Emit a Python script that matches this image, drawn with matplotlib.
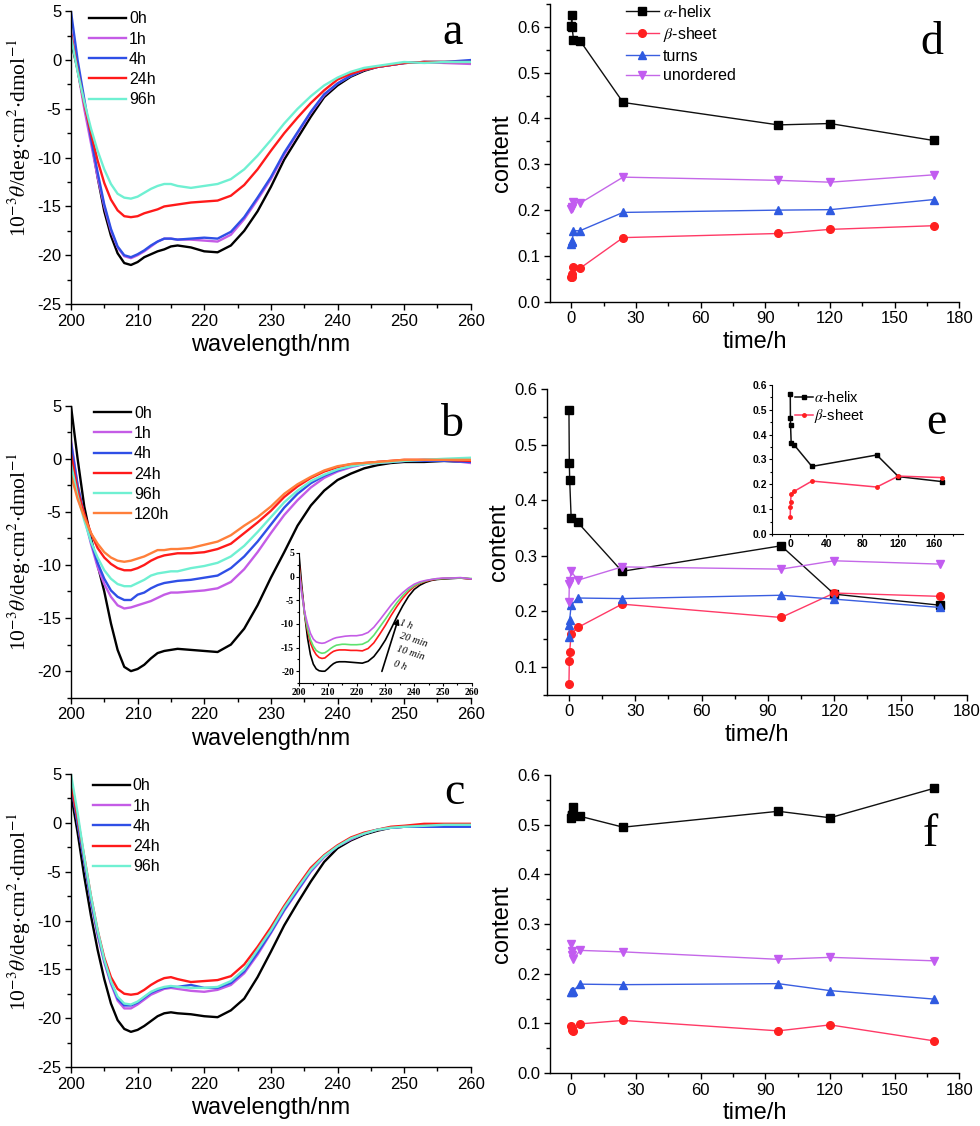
import numpy as np
import matplotlib.pyplot as plt
from matplotlib.ticker import MultipleLocator

plt.rcParams['font.family'] = ['Liberation Sans', 'DejaVu Sans']
plt.rcParams['mathtext.fontset'] = 'stix'
plt.rcParams['axes.unicode_minus'] = False

wl = [200, 201, 202, 203, 204, 205, 206, 207, 208, 209, 210, 211, 212, 213, 214, 215, 216,
      218, 220, 222, 224, 226, 228, 230, 232, 234, 236, 238, 240, 242, 244, 246, 248, 250,
      253, 256, 260]

# panel a (10^-3 theta)
a_0h = [2.0, -1.0, -4.5, -8.0, -12.0, -15.5, -18.0, -19.8, -20.8, -21.0, -20.7, -20.2, -19.9,
        -19.6, -19.4, -19.1, -19.0, -19.2, -19.6, -19.7, -19.0, -17.5, -15.5, -13.0, -10.2,
        -8.0, -5.8, -3.8, -2.6, -1.7, -1.1, -0.7, -0.5, -0.3, -0.2, -0.2, -0.2]
a_1h = [3.0, -1.0, -5.0, -8.5, -12.0, -15.0, -17.5, -19.2, -20.1, -20.3, -20.0, -19.6, -19.1,
        -18.6, -18.3, -18.3, -18.4, -18.4, -18.5, -18.6, -17.9, -16.3, -14.3, -12.2, -9.7,
        -7.5, -5.4, -3.6, -2.4, -1.6, -1.0, -0.7, -0.5, -0.3, -0.2, -0.3, -0.4]
a_4h = [5.0, 0.0, -4.0, -8.0, -11.5, -14.8, -17.3, -19.1, -20.0, -20.2, -19.9, -19.5, -19.0,
        -18.6, -18.3, -18.3, -18.4, -18.3, -18.2, -18.3, -17.6, -16.1, -14.1, -12.0, -9.5,
        -7.4, -5.3, -3.5, -2.4, -1.6, -1.0, -0.7, -0.5, -0.3, -0.2, -0.2, 0.0]
a_24h = [2.7, -1.0, -4.5, -7.5, -10.3, -12.6, -14.3, -15.4, -16.0, -16.1, -16.0, -15.7, -15.5,
         -15.3, -15.0, -14.9, -14.8, -14.6, -14.5, -14.4, -13.9, -12.8, -11.2, -9.3, -7.5,
         -5.9, -4.4, -3.1, -2.0, -1.4, -1.0, -0.7, -0.5, -0.3, -0.2, -0.2, -0.2]
a_96h = [2.4, -1.2, -4.3, -7.0, -9.3, -11.2, -12.7, -13.7, -14.1, -14.2, -14.0, -13.6, -13.2,
         -12.9, -12.7, -12.7, -12.9, -13.1, -12.9, -12.7, -12.2, -11.2, -9.8, -8.2, -6.5,
         -5.0, -3.7, -2.6, -1.8, -1.2, -0.8, -0.6, -0.4, -0.2, -0.3, -0.2, -0.2]

# panel b
b_0h = [5.0, 0.0, -4.5, -7.5, -10.0, -12.5, -15.5, -18.0, -19.6, -20.0, -19.8, -19.4, -18.8,
        -18.3, -18.1, -18.0, -17.9, -18.0, -18.1, -18.2, -17.5, -16.0, -13.8, -11.2, -8.8,
        -6.3, -4.4, -3.0, -2.0, -1.4, -0.9, -0.6, -0.4, -0.3, -0.3, -0.2, -0.3]
b_1h = [1.8, -2.5, -5.5, -8.0, -10.2, -11.8, -13.0, -13.8, -14.1, -14.0, -13.8, -13.6, -13.4,
        -13.1, -12.8, -12.6, -12.6, -12.5, -12.4, -12.2, -11.6, -10.4, -8.8, -7.0, -5.3,
        -3.9, -2.7, -1.8, -1.2, -0.8, -0.5, -0.4, -0.3, -0.2, -0.1, -0.1, -0.4]
b_4h = [1.5, -2.5, -5.3, -7.8, -9.8, -11.3, -12.4, -13.0, -13.3, -13.3, -12.8, -12.6, -12.2,
        -11.9, -11.7, -11.6, -11.5, -11.4, -11.2, -11.0, -10.3, -9.2, -7.8, -6.2, -4.6,
        -3.3, -2.3, -1.6, -1.1, -0.7, -0.5, -0.3, -0.3, -0.2, -0.2, -0.2, -0.3]
b_24h = [0.5, -3.0, -5.2, -7.0, -8.4, -9.3, -9.9, -10.3, -10.5, -10.5, -10.3, -10.0, -9.6,
         -9.3, -9.1, -9.0, -8.9, -8.9, -8.8, -8.5, -8.0, -7.0, -6.0, -4.9, -3.6,
         -2.6, -1.8, -1.2, -0.8, -0.5, -0.4, -0.3, -0.2, -0.1, -0.1, -0.1, -0.2]
b_96h = [-0.5, -3.5, -5.8, -7.8, -9.3, -10.5, -11.3, -11.8, -12.0, -12.0, -11.7, -11.4, -11.0,
         -10.8, -10.7, -10.6, -10.6, -10.3, -10.1, -9.8, -9.2, -8.2, -6.9, -5.5, -4.1,
         -3.0, -2.1, -1.5, -1.0, -0.7, -0.5, -0.4, -0.3, -0.2, -0.1, 0.0, 0.1]
b_120h = [-1.5, -3.8, -5.5, -7.0, -8.0, -8.8, -9.3, -9.6, -9.7, -9.6, -9.4, -9.2, -8.9,
          -8.6, -8.6, -8.5, -8.5, -8.4, -8.1, -7.8, -7.2, -6.3, -5.5, -4.5, -3.3,
          -2.4, -1.7, -1.1, -0.7, -0.5, -0.4, -0.3, -0.2, -0.1, -0.1, -0.1, -0.1]

# inset of panel b (first hour)
bi_0h = [5.0, -2.0, -8.0, -13.0, -16.5, -18.5, -19.5, -19.9, -20.0, -20.0, -19.5, -18.9, -18.4,
         -18.1, -18.0, -18.0, -18.0, -18.1, -18.2, -18.3, -17.9, -16.9, -15.3, -13.4, -11.0,
         -8.5, -6.2, -4.2, -2.7, -1.8, -1.2, -0.8, -0.6, -0.5, -0.4, -0.3, -0.5]
bi_10m = [3.0, -3.0, -8.0, -11.5, -14.0, -15.5, -16.5, -17.1, -17.3, -17.2, -16.7, -16.2, -15.8,
          -15.6, -15.5, -15.5, -15.5, -15.6, -15.6, -15.7, -15.2, -14.0, -12.2, -10.3, -8.2,
          -6.3, -4.6, -3.2, -2.1, -1.4, -1.0, -0.7, -0.5, -0.4, -0.3, -0.3, -0.5]
bi_20m = [2.0, -3.5, -8.0, -11.0, -13.3, -14.7, -15.6, -16.0, -16.2, -16.1, -15.7, -15.2, -14.8,
          -14.5, -14.4, -14.3, -14.3, -14.4, -14.4, -14.3, -13.7, -12.4, -10.7, -9.0, -7.2,
          -5.5, -4.0, -2.8, -1.9, -1.3, -0.9, -0.6, -0.5, -0.4, -0.3, -0.3, -0.4]
bi_1h = [1.5, -3.5, -7.5, -10.0, -12.0, -13.2, -13.8, -14.0, -14.1, -14.0, -13.7, -13.4, -13.1,
         -12.9, -12.8, -12.7, -12.6, -12.5, -12.5, -12.3, -11.8, -10.7, -9.2, -7.6, -6.0,
         -4.6, -3.4, -2.4, -1.6, -1.1, -0.8, -0.6, -0.4, -0.3, -0.3, -0.2, -0.5]

# panel c
c_0h = [3.0, -1.0, -5.5, -9.5, -13.0, -16.0, -18.5, -20.2, -21.1, -21.4, -21.2, -20.8, -20.3,
        -19.8, -19.5, -19.4, -19.5, -19.6, -19.8, -19.9, -19.2, -18.0, -15.8, -13.2, -10.5,
        -8.2, -6.0, -4.0, -2.6, -1.8, -1.2, -0.8, -0.5, -0.4, -0.3, -0.2, -0.2]
c_1h = [4.0, 0.0, -4.0, -8.0, -11.5, -14.3, -16.5, -18.2, -19.0, -19.0, -18.6, -18.1, -17.6,
        -17.3, -17.0, -16.9, -17.0, -17.2, -17.3, -17.1, -16.6, -15.4, -13.5, -11.3, -9.0,
        -7.0, -5.0, -3.5, -2.4, -1.7, -1.1, -0.7, -0.5, -0.4, -0.4, -0.4, -0.4]
c_4h = [4.0, 0.0, -4.0, -8.0, -11.3, -14.1, -16.3, -18.0, -18.7, -18.7, -18.4, -17.9, -17.4,
        -17.1, -16.9, -16.8, -16.8, -16.6, -16.9, -16.9, -16.4, -15.2, -13.3, -11.2, -8.9,
        -6.9, -4.9, -3.4, -2.4, -1.6, -1.1, -0.7, -0.5, -0.4, -0.4, -0.4, -0.4]
c_24h = [4.0, 0.5, -3.5, -7.5, -11.0, -13.8, -15.8, -17.0, -17.5, -17.6, -17.5, -17.1, -16.6,
         -16.2, -15.9, -15.8, -16.0, -16.3, -16.2, -16.1, -15.7, -14.5, -12.7, -10.7, -8.5,
         -6.5, -4.6, -3.3, -2.3, -1.5, -1.0, -0.7, -0.4, -0.3, -0.1, -0.1, -0.1]
c_96h = [5.0, 1.0, -3.5, -7.5, -11.0, -14.0, -16.2, -17.8, -18.5, -18.6, -18.3, -17.8, -17.3,
         -17.0, -16.8, -16.7, -16.8, -16.9, -16.9, -16.8, -16.2, -15.0, -13.0, -11.0, -8.7,
         -6.7, -4.8, -3.4, -2.4, -1.6, -1.1, -0.7, -0.5, -0.4, -0.3, -0.2, -0.2]

# secondary structure content vs time
t_h = [0, 0.17, 0.33, 1, 4, 24, 96, 120, 168]
d_helix = [0.601, 0.625, 0.600, 0.572, 0.570, 0.435, 0.386, 0.389, 0.352]
d_sheet = [0.054, 0.055, 0.060, 0.075, 0.073, 0.140, 0.149, 0.158, 0.166]
d_turns = [0.125, 0.132, 0.130, 0.155, 0.155, 0.195, 0.200, 0.201, 0.223]
d_unord = [0.203, 0.207, 0.205, 0.218, 0.215, 0.272, 0.265, 0.261, 0.277]

e_helix = [0.563, 0.467, 0.437, 0.368, 0.360, 0.272, 0.318, 0.231, 0.211]
e_sheet = [0.070, 0.110, 0.127, 0.160, 0.171, 0.213, 0.189, 0.233, 0.227]
e_turns = [0.153, 0.176, 0.185, 0.211, 0.224, 0.223, 0.229, 0.222, 0.207]
e_unord = [0.217, 0.249, 0.254, 0.272, 0.256, 0.280, 0.276, 0.291, 0.285]

f_helix = [0.513, 0.519, 0.520, 0.536, 0.517, 0.495, 0.527, 0.514, 0.573]
f_sheet = [0.095, 0.086, 0.090, 0.085, 0.099, 0.106, 0.085, 0.097, 0.065]
f_turns = [0.163, 0.164, 0.165, 0.166, 0.179, 0.178, 0.180, 0.166, 0.149]
f_unord = [0.259, 0.245, 0.238, 0.230, 0.247, 0.244, 0.229, 0.233, 0.226]

cd_colors = ['#000000', '#c45ce6', '#2f4fe6', '#ff1a1a', '#6ff0d2', '#ff7f3a']
inset_colors = ['#000000', '#ff1a1a', '#5ee26e', '#c45ce6']
ss_colors = ['#000000', '#ff2020', '#2f5ae0', '#c25cf0']
ss_line = ['#101010', '#ff3a66', '#3a5ee0', '#c468e8']
ss_marks = ['s', 'o', '^', 'v']
ss_names = [r'$\alpha$-helix', r'$\beta$-sheet', 'turns', 'unordered']

CD_YLABEL = r'10$^{-3}$$\theta$/deg$\cdot$cm$^{2}$$\cdot$dmol$^{-1}$'
SERIF = ['Liberation Serif', 'DejaVu Serif']


def origin_style(ax, xmaj, xmin, ymaj, ymin, size=12, lw=1.0, tl=4.5):
    for s in ('top', 'right'):
        ax.spines[s].set_visible(False)
    for s in ('left', 'bottom'):
        ax.spines[s].set_linewidth(lw)
    ax.xaxis.set_major_locator(MultipleLocator(xmaj))
    ax.xaxis.set_minor_locator(MultipleLocator(xmin))
    ax.yaxis.set_major_locator(MultipleLocator(ymaj))
    ax.yaxis.set_minor_locator(MultipleLocator(ymin))
    ax.tick_params(which='major', direction='out', length=tl, width=lw, labelsize=size, pad=2.5)
    ax.tick_params(which='minor', direction='out', length=tl * 0.6, width=lw)


def cd_panel(rect, curves, labels, ylim, legend_anchor, ylab_y):
    ax = fig.add_axes(rect)
    for y, lab, col in zip(curves, labels, cd_colors):
        ax.plot(wl, y, color=col, lw=1.7, label=lab)
    ax.set_xlim(200, 260)
    ax.set_ylim(*ylim)
    origin_style(ax, 10, 5, 5, 2.5)
    ax.set_xlabel('wavelength/nm', fontsize=17, labelpad=4)
    ax.set_ylabel(CD_YLABEL, fontsize=15.5, family=SERIF)
    ax.yaxis.set_label_coords(-0.095, ylab_y)
    ax.legend(loc='upper left', bbox_to_anchor=legend_anchor, frameon=False, fontsize=11.5,
              handlelength=2.3, handletextpad=0.2, labelspacing=0.33, borderpad=0,
              borderaxespad=0)
    return ax


def ss_panel(rect, series, ylim, legend=False):
    ax = fig.add_axes(rect)
    for i, y in enumerate(series):
        ax.plot(t_h, y, color=ss_line[i], lw=1.0, marker=ss_marks[i], ms=5.5,
                mfc=ss_colors[i], mec=ss_colors[i], label=ss_names[i])
    ax.set_xlim(-10, 180)
    ax.set_ylim(*ylim)
    origin_style(ax, 30, 15, 0.1, 0.05)
    ax.set_xlabel('time/h', fontsize=17, labelpad=3)
    ax.set_ylabel('content', fontsize=17, labelpad=3)
    if legend:
        ax.legend(loc='upper left', bbox_to_anchor=(0.185, 1.0), frameon=False, fontsize=11.5,
                  handlelength=2.1, handletextpad=0.25, labelspacing=0.3, borderpad=0,
                  borderaxespad=0, numpoints=1)
    return ax


fig = plt.figure(figsize=(9.8, 11.26), dpi=100)

# left column: CD spectra
cd_panel([0.0724, 0.730, 0.408, 0.260], [a_0h, a_1h, a_4h, a_24h, a_96h],
         ['0h', '1h', '4h', '24h', '96h'], (-25, 5), (0.045, 1.0), 0.567)
cd_panel([0.0724, 0.3804, 0.408, 0.2593], [b_0h, b_1h, b_4h, b_24h, b_96h, b_120h],
         ['0h', '1h', '4h', '24h', '96h', '120h'], (-22.5, 5), (0.058, 1.0), 0.5)
cd_panel([0.0724, 0.0524, 0.408, 0.2602], [c_0h, c_1h, c_4h, c_24h, c_96h],
         ['0h', '1h', '4h', '24h', '96h'], (-25, 5), (0.055, 0.985), 0.53)

# inset of b
axi = fig.add_axes([0.305, 0.3934, 0.1765, 0.1155])
axi.patch.set_alpha(0)
for y, col in zip([bi_0h, bi_10m, bi_20m, bi_1h], inset_colors):
    axi.plot(wl, y, color=col, lw=1.2)
axi.set_xlim(200, 260)
axi.set_ylim(-22.5, 5)
origin_style(axi, 10, 5, 5, 2.5, size=7, lw=0.8, tl=2.5)
axi.tick_params(pad=1)
for lab in axi.get_xticklabels() + axi.get_yticklabels():
    lab.set_family(SERIF)
    lab.set_fontweight('bold')
axi.annotate('', xy=(234.8, -8.3), xytext=(228.5, -20.6),
             arrowprops=dict(arrowstyle='-|>', color='black', lw=1.2, mutation_scale=8))
for txt, xy in [('1 h', (234.5, -10.2)), ('20 min', (234.6, -13.4)),
                ('10 min', (233.6, -16.2)), ('0 h', (232.6, -18.8))]:
    axi.text(xy[0], xy[1], txt, family=SERIF, style='italic', fontsize=7.5,
             rotation=-18, va='center', ha='left')

# right column: secondary structure content
ss_panel([0.561, 0.732, 0.418, 0.2645], [d_helix, d_sheet, d_turns, d_unord], (0, 0.65),
         legend=True)
ss_panel([0.558, 0.383, 0.4286, 0.2715], [e_helix, e_sheet, e_turns, e_unord], (0.05, 0.6))
ss_panel([0.561, 0.047, 0.418, 0.2647], [f_helix, f_sheet, f_turns, f_unord], (0, 0.6))

# inset of e
axe = fig.add_axes([0.788, 0.5258, 0.195, 0.1323])
axe.patch.set_alpha(0)
for i, y in enumerate([e_helix, e_sheet]):
    axe.plot(t_h, y, color=ss_line[i], lw=1.1, marker=ss_marks[i], ms=2.5,
             mfc=ss_colors[i], mec=ss_colors[i], label=ss_names[i])
axe.set_xlim(-20, 192)
axe.set_ylim(0, 0.6)
origin_style(axe, 40, 20, 0.1, 0.05, size=7.5, lw=0.8, tl=2.5)
axe.tick_params(pad=1)
for lab in axe.get_xticklabels() + axe.get_yticklabels():
    lab.set_fontweight('bold')
axe.legend(loc='upper left', bbox_to_anchor=(0.12, 0.965), frameon=False, fontsize=10.5,
           handlelength=1.2, handletextpad=0.1, labelspacing=0.15, borderpad=0,
           borderaxespad=0, numpoints=1)

# panel letters
for letter, x, y in [('a', 0.462, 0.971), ('b', 0.462, 0.6226), ('c', 0.464, 0.2957),
                     ('d', 0.951, 0.9618), ('e', 0.956, 0.625), ('f', 0.949, 0.2584)]:
    fig.text(x, y, letter, family=SERIF, fontsize=33, ha='center', va='center', zorder=10)

fig.savefig('out.png', dpi=100)
